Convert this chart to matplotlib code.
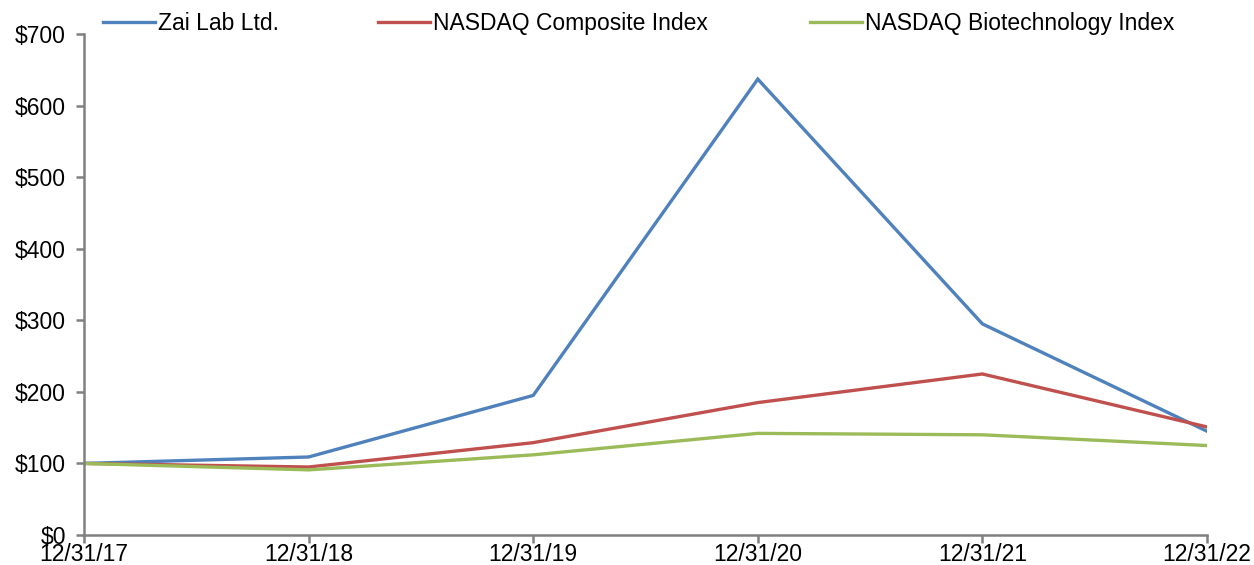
import matplotlib.pyplot as plt
from matplotlib.lines import Line2D

# Cumulative total return, $100 invested on 12/31/17
dates = ["12/31/17", "12/31/18", "12/31/19", "12/31/20", "12/31/21", "12/31/22"]
zai_lab = [100, 109, 195, 637, 295, 145]
nasdaq_comp = [100, 95, 129, 185, 225, 151]
nasdaq_bio = [100, 91, 112, 142, 140, 125]

series_names = ["Zai Lab Ltd.", "NASDAQ Composite Index", "NASDAQ Biotechnology Index"]
colors = ["#4F81BD", "#C0504D", "#9BBB59"]

plt.rcParams['font.family'] = ['Liberation Sans', 'DejaVu Sans']
fs = 16.5

fig = plt.figure(figsize=(12.54, 5.65), dpi=100)
ax = fig.add_axes([0.067, 0.0531, 0.8955, 0.8867])

x = list(range(len(dates)))
for vals, c in zip([zai_lab, nasdaq_comp, nasdaq_bio], colors):
    ax.plot(x, vals, color=c, linewidth=2.4, solid_joinstyle='miter')

ax.set_xlim(0, len(dates) - 1)
ax.set_ylim(0, 700)
ax.set_yticks(range(0, 701, 100))
ax.set_yticklabels([f"${v}" for v in range(0, 701, 100)])
ax.set_xticks(x)
ax.set_xticklabels(dates)

for s in ['top', 'right']:
    ax.spines[s].set_visible(False)
for s in ['left', 'bottom']:
    ax.spines[s].set_color('#808080')
    ax.spines[s].set_linewidth(1.8)
ax.tick_params(axis='both', colors='#808080', width=1.8, length=6, labelsize=fs,
               labelcolor='black', direction='out')
ax.tick_params(axis='x', pad=0)
ax.tick_params(axis='y', pad=7)

# legend entries placed individually across the top
legend_x = [0.0821, 0.3014, 0.646]
for name, c, lx in zip(series_names, colors, legend_x):
    h = Line2D([], [], color=c, linewidth=2.4)
    fig.legend([h], [name], loc='center left', bbox_to_anchor=(lx, 0.958),
               frameon=False, fontsize=fs, handlelength=2.27, handletextpad=0.13,
               borderaxespad=0, borderpad=0)

fig.savefig("out.png", dpi=100)
